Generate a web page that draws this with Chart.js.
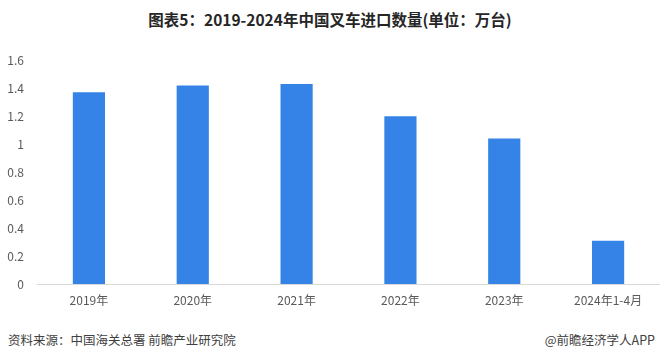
<!DOCTYPE html>
<html>
<head>
<meta charset="utf-8">
<title>2019-2024年中国叉车进口数量</title>
<script src="https://cdn.jsdelivr.net/npm/chart.js"></script>
<style>
  html, body { margin: 0; padding: 0; background: #fff; }
  body { width: 660px; height: 360px; position: relative; overflow: hidden;
         font-family: "Noto Sans CJK SC", "Noto Sans", sans-serif; }
  #title { position: absolute; top: 8px; left: 0; width: 660px; text-align: center;
           font-size: 15.5px; font-weight: bold; color: #262626; }
  #wrap { position: absolute; top: 40px; left: 0; width: 660px; height: 280px; }
  #source { position: absolute; left: 8px; top: 330px; font-size: 12.5px; color: #404040; }
  #brand { position: absolute; right: 5px; top: 330px; font-size: 12.5px; color: #404040; }
</style>
</head>
<body>
<div id="title">图表5：2019-2024年中国叉车进口数量(单位：万台)</div>
<div id="wrap"><canvas id="chart" width="660" height="280"></canvas></div>
<div id="source">资料来源：中国海关总署 前瞻产业研究院</div>
<div id="brand">@前瞻经济学人APP</div>
<script>
  // data
  const categories = ['2019年', '2020年', '2021年', '2022年', '2023年', '2024年1-4月'];
  const imports = [1.37, 1.42, 1.43, 1.2, 1.04, 0.31];
  const yMax = 1.6;
  const yStep = 0.2;

  const tickFont = { family: '"Noto Sans CJK SC", "Noto Sans", sans-serif', size: 12 };

  new Chart(document.getElementById('chart').getContext('2d'), {
    type: 'bar',
    data: {
      labels: categories,
      datasets: [{
        label: '进口数量',
        data: imports,
        backgroundColor: '#3583e6',
        categoryPercentage: 1,
        barPercentage: 0.31,
      }],
    },
    options: {
      responsive: false,
      animation: false,
      layout: { padding: { top: 12, right: 0, left: 0, bottom: 0 } },
      plugins: {
        legend: { display: false },
        tooltip: { enabled: false },
      },
      scales: {
        x: {
          grid: { display: false, drawTicks: false },
          border: { display: true, color: '#d9d9d9', width: 1 },
          ticks: { color: '#595959', font: tickFont, padding: 9, maxRotation: 0 },
          afterFit: (scale) => { scale.height = 36; },
        },
        y: {
          min: 0,
          max: yMax,
          grid: { display: false, drawTicks: false },
          border: { display: false },
          ticks: {
            stepSize: yStep, color: '#595959', font: tickFont, padding: 13,
            // excel style: 1 instead of 1.0
            callback: (v) => String(Math.round(v * 10) / 10),
          },
          afterFit: (scale) => { scale.width = 37; },
        },
      },
    },
  });
</script>
</body>
</html>
